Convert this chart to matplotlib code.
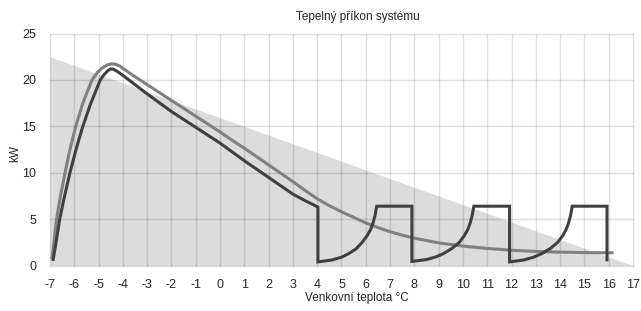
import matplotlib
matplotlib.use('Agg')
import matplotlib.pyplot as plt

plt.rcParams['font.family'] = ['Liberation Sans', 'DejaVu Sans']
plt.rcParams['axes.unicode_minus'] = False

# area under the heating demand line
area_x = [-7, 17]
area_y = [22.5, 0]

# dark line (heat pump input, with on/off cycling above 4 °C)
dark_x = [-6.88, -6.75, -6.6, -6.4, -6.18, -5.93, -5.65, -5.32, -4.93, -4.8, -4.62,
          -4.5, -4.38, -4.22, -4.0, -3.5, -3.0, -2.5, -2.0, -1.5, -1.0, -0.5,
          0.0, 0.5, 1.0, 1.5, 2.0, 2.5, 3.0, 3.5, 4.03,
          4.03, 4.6, 5.0, 5.3, 5.6, 5.85, 6.05, 6.2, 6.3, 6.38, 6.45, 7.9,
          7.9, 8.5, 8.9, 9.2, 9.55, 9.85, 10.05, 10.2, 10.3, 10.38, 10.45, 11.92,
          11.92, 12.5, 12.9, 13.25, 13.6, 13.9, 14.1, 14.25, 14.35, 14.43, 14.5, 15.93,
          15.93]
dark_y = [0.5, 2.5, 5.0, 7.5, 10.0, 12.5, 15.0, 17.5, 20.0, 20.5, 21.0,
          21.2, 21.15, 20.9, 20.5, 19.5, 18.5, 17.55, 16.6, 15.75, 14.9, 14.05,
          13.2, 12.25, 11.3, 10.4, 9.5, 8.6, 7.7, 7.0, 6.3,
          0.4, 0.6, 0.9, 1.3, 1.8, 2.5, 3.2, 3.9, 4.6, 5.4, 6.4, 6.4,
          0.45, 0.65, 0.95, 1.3, 1.85, 2.5, 3.2, 3.9, 4.6, 5.4, 6.4, 6.4,
          0.4, 0.6, 0.9, 1.3, 1.85, 2.5, 3.2, 3.9, 4.6, 5.4, 6.4, 6.4,
          0.45]

# gray line
gray_x = [-6.92, -6.84, -6.73, -6.57, -6.38, -6.18, -5.94, -5.65, -5.27, -5.05, -4.85,
          -4.65, -4.47, -4.3, -4.12, -4.0, -3.5, -3.0, -2.5, -2.0, -1.5, -1.0, -0.5,
          0.0, 0.5, 1.0, 1.5, 2.0, 2.5, 3.0, 3.5, 4.0, 4.5, 5.0, 5.5, 6.0, 6.5, 7.0,
          7.5, 8.0, 9.0, 10.0, 11.0, 12.0, 13.0, 14.0, 15.0, 16.0, 16.2]
gray_y = [0.7, 2.5, 5.0, 7.5, 10.0, 12.5, 15.0, 17.5, 20.0, 20.8, 21.3,
          21.6, 21.75, 21.7, 21.5, 21.25, 20.35, 19.5, 18.65, 17.8, 16.95, 16.1, 15.25,
          14.4, 13.5, 12.65, 11.75, 10.85, 9.95, 9.05, 8.1, 7.2, 6.45, 5.8, 5.2, 4.6, 4.1, 3.65,
          3.28, 2.95, 2.45, 2.1, 1.85, 1.65, 1.52, 1.45, 1.4, 1.38, 1.38]

x_ticks = list(range(-7, 18))
y_ticks = [0, 5, 10, 15, 20, 25]

fig = plt.figure(figsize=(6.41, 3.11), dpi=100)
ax = fig.add_axes([0.078, 0.146, 0.9095, 0.746])

ax.fill_between(area_x, area_y, 0, color='#dcdcdc', lw=0, zorder=1)
ax.plot(gray_x, gray_y, color='#808080', lw=2.2, zorder=3, solid_capstyle='butt')
ax.plot(dark_x, dark_y, color='#404040', lw=2.2, zorder=4, solid_capstyle='butt',
        solid_joinstyle='miter')

ax.set_xlim(-7, 17)
ax.set_ylim(0, 25)
ax.set_xticks(x_ticks)
ax.set_yticks(y_ticks)
ax.set_axisbelow(False)
ax.grid(True, color='black', alpha=0.12, lw=1.0)
for gl in ax.get_xgridlines() + ax.get_ygridlines():
    gl.set_clip_on(False)
for s in ax.spines.values():
    s.set_visible(False)
ax.tick_params(length=0, labelsize=9, colors='#262626')
ax.tick_params(axis='x', pad=10)
ax.tick_params(axis='y', pad=10)

fig.text(358 / 641, 1 - 17 / 311, 'Tepelný příkon systému', fontsize=8.5,
         color='#262626', ha='center', va='center')
fig.text(357 / 641, 1 - 298 / 311, 'Venkovní teplota °C', fontsize=8.5,
         color='#262626', ha='center', va='center')
fig.text(15 / 641, 1 - 153 / 311, 'kW', fontsize=8.5, color='#262626',
         ha='center', va='center', rotation=90)

fig.savefig('out.png', dpi=100)
